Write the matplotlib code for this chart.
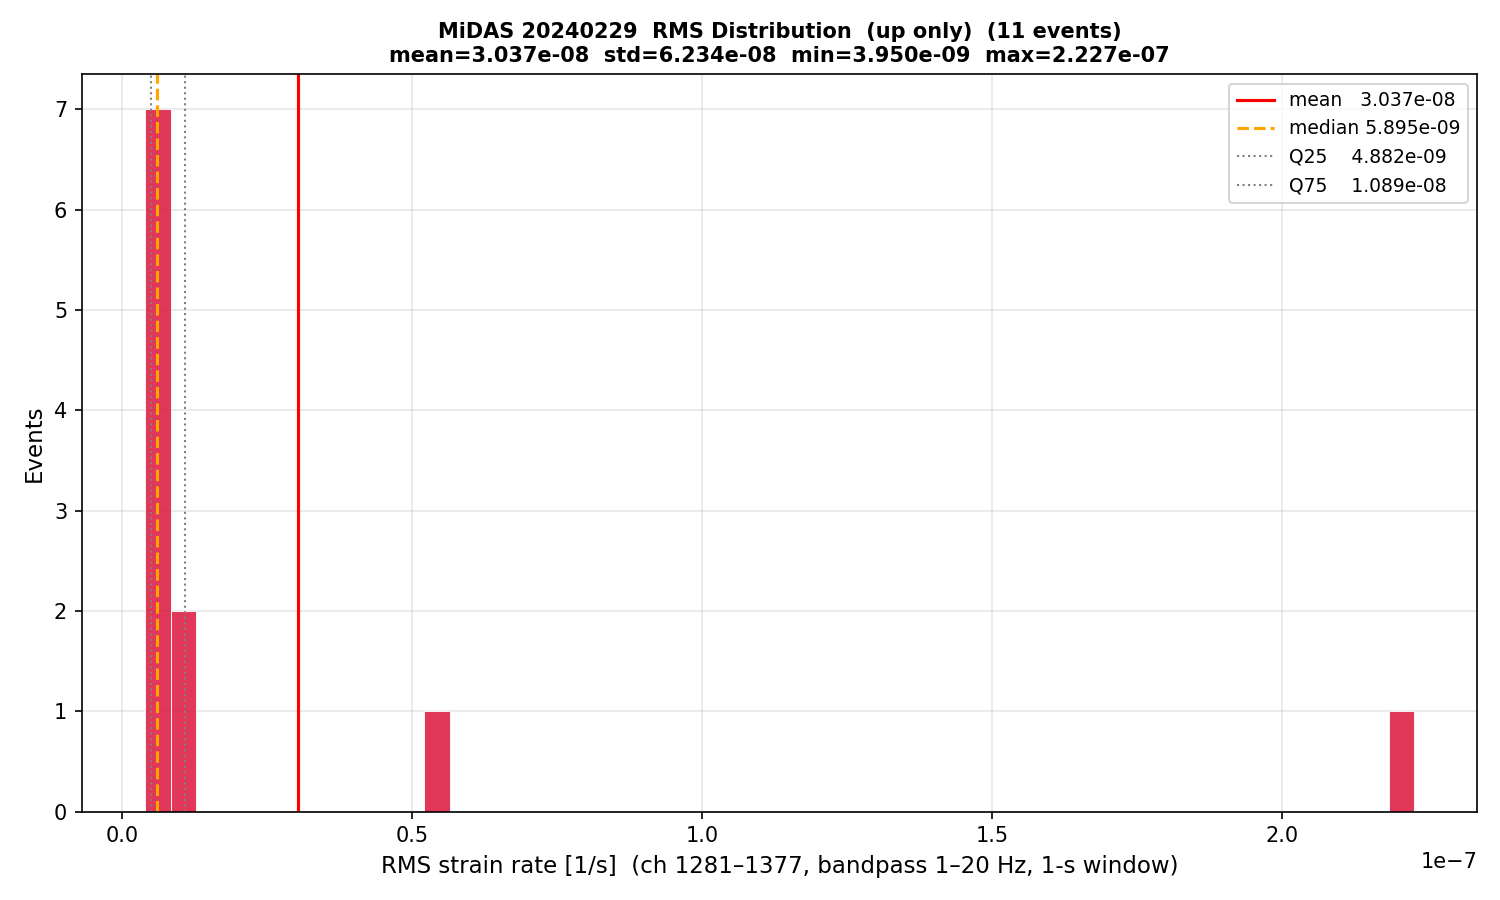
import numpy as np
import matplotlib
matplotlib.use("Agg")
import matplotlib.pyplot as plt

# RMS strain rate per event (up only), 11 events
rms_values = np.array([3.950e-9, 4.550e-9, 4.800e-9, 4.964e-9, 5.400e-9, 5.895e-9,
                       6.030e-9, 1.000e-8, 1.178e-8, 5.400e-8, 2.227e-7])

mean_v = 3.037e-08
std_v = 6.234e-08
min_v = 3.950e-09
max_v = 2.227e-07
median_v = 5.895e-09
q25_v = 4.882e-09
q75_v = 1.089e-08
n_bins = 50

fig, ax = plt.subplots(figsize=(10, 6), dpi=150)

ax.hist(rms_values, bins=n_bins, color="crimson", alpha=0.85, edgecolor="white", linewidth=0.5)
ax.axvline(mean_v, color="red", lw=1.5, label=f"mean   {mean_v:.3e}")
ax.axvline(median_v, color="orange", lw=1.5, ls="--", label=f"median {median_v:.3e}")
ax.axvline(q25_v, color="gray", lw=1, ls=":", label=f"Q25    {q25_v:.3e}")
ax.axvline(q75_v, color="gray", lw=1, ls=":", label=f"Q75    {q75_v:.3e}")

ax.set_xlabel("RMS strain rate [1/s]  (ch 1281\u20131377, bandpass 1\u201320 Hz, 1-s window)", fontsize=11)
ax.set_ylabel("Events", fontsize=11)
ax.set_title(f"MiDAS 20240229  RMS Distribution  (up only)  (11 events)\n"
             f"mean={mean_v:.3e}  std={std_v:.3e}  min={min_v:.3e}  max={max_v:.3e}",
             fontsize=10, fontweight="bold")
ax.grid(True, alpha=0.3)
ax.set_axisbelow(True)
ax.legend(fontsize=9)

fig.tight_layout()
fig.savefig("out.png")
